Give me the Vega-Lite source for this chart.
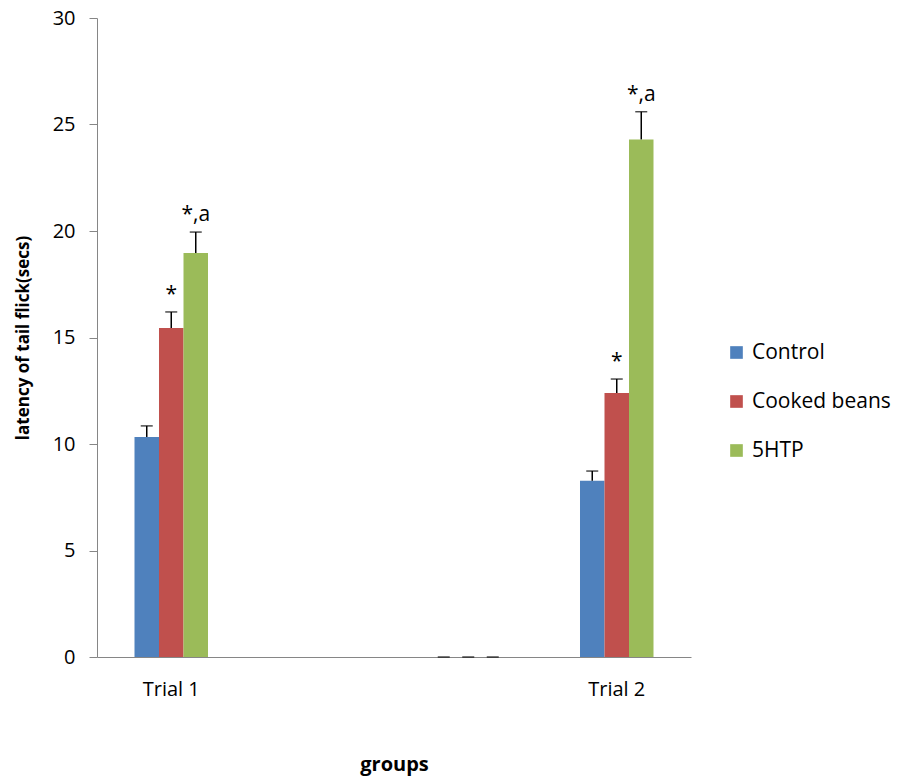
{
  "$schema": "https://vega.github.io/schema/vega-lite/v6.json",
  "autosize": "none",
  "width": 594,
  "height": 639,
  "padding": {"left": 97, "top": 18, "right": 216, "bottom": 122},
  "background": "white",
  "config": {
    "view": {"stroke": null},
    "font": "Open Sans",
    "axis": {"grid": false, "domainColor": "#868686", "tickColor": "#868686", "labelColor": "#000", "titleColor": "#000", "labelFont": "Open Sans", "titleFont": "Open Sans"}
  },
  "data": {
    "values": [
      {"group": "Trial 1", "treatment": "Control", "value": 10.33, "upper": 10.85, "label": ""},
      {"group": "Trial 1", "treatment": "Cooked beans", "value": 15.45, "upper": 16.2, "label": "*"},
      {"group": "Trial 1", "treatment": "5HTP", "value": 18.97, "upper": 19.95, "label": "*,a"},
      {"group": "C", "treatment": "Control", "value": 0, "upper": 0, "label": ""},
      {"group": "C", "treatment": "Cooked beans", "value": 0, "upper": 0, "label": ""},
      {"group": "C", "treatment": "5HTP", "value": 0, "upper": 0, "label": ""},
      {"group": "Trial 2", "treatment": "Control", "value": 8.27, "upper": 8.73, "label": ""},
      {"group": "Trial 2", "treatment": "Cooked beans", "value": 12.4, "upper": 13.05, "label": "*"},
      {"group": "Trial 2", "treatment": "5HTP", "value": 24.3, "upper": 25.6, "label": "*,a"}
    ]
  },
  "encoding": {
    "x": {
      "field": "group", "type": "nominal",
      "scale": {"domain": ["Trial 1", "B", "C", "Trial 2"], "paddingInner": 0.505, "paddingOuter": 0.2525},
      "axis": {
        "title": "groups", "titleFontSize": 20, "titleFontWeight": "bold", "titlePadding": 55,
        "labelAngle": 0, "labelFontSize": 20, "labelPadding": 22, "ticks": false,
        "labelExpr": "datum.value == 'B' || datum.value == 'C' ? '' : datum.value"
      }
    },
    "xOffset": {"field": "treatment", "type": "nominal", "scale": {"domain": ["Control", "Cooked beans", "5HTP"], "paddingInner": 0, "paddingOuter": 0}}
  },
  "layer": [
    {
      "mark": {"type": "bar"},
      "encoding": {
        "y": {
          "field": "value", "type": "quantitative",
          "scale": {"domain": [0, 30], "nice": false},
          "axis": {
            "title": "latency of tail flick(secs)", "titleFontSize": 17, "titleFontWeight": "bold", "titlePadding": 20,
            "values": [0, 5, 10, 15, 20, 25, 30], "labelFontSize": 20, "tickSize": 8, "labelPadding": 14
          }
        },
        "color": {
          "field": "treatment", "type": "nominal",
          "scale": {"domain": ["Control", "Cooked beans", "5HTP"], "range": ["#4F81BD", "#C0504D", "#9BBB59"]},
          "legend": {
            "title": null, "orient": "none", "legendX": 629, "legendY": 324,
            "symbolType": "square", "symbolSize": 160, "symbolStrokeWidth": 0,
            "labelFontSize": 21, "labelFont": "Open Sans", "rowPadding": 27, "labelOffset": 5
          }
        }
      }
    },
    {
      "mark": {"type": "rule", "color": "#000", "strokeWidth": 1.5},
      "encoding": {
        "y": {"field": "value", "type": "quantitative"},
        "y2": {"field": "upper"}
      }
    },
    {
      "mark": {"type": "tick", "orient": "horizontal", "color": "#000", "size": 12, "thickness": 1.5},
      "encoding": {
        "y": {"field": "upper", "type": "quantitative"}
      }
    },
    {
      "mark": {"type": "text", "fontSize": 21, "dy": -17, "color": "#000", "font": "Open Sans"},
      "encoding": {
        "y": {"field": "upper", "type": "quantitative"},
        "text": {"field": "label"}
      }
    }
  ]
}
